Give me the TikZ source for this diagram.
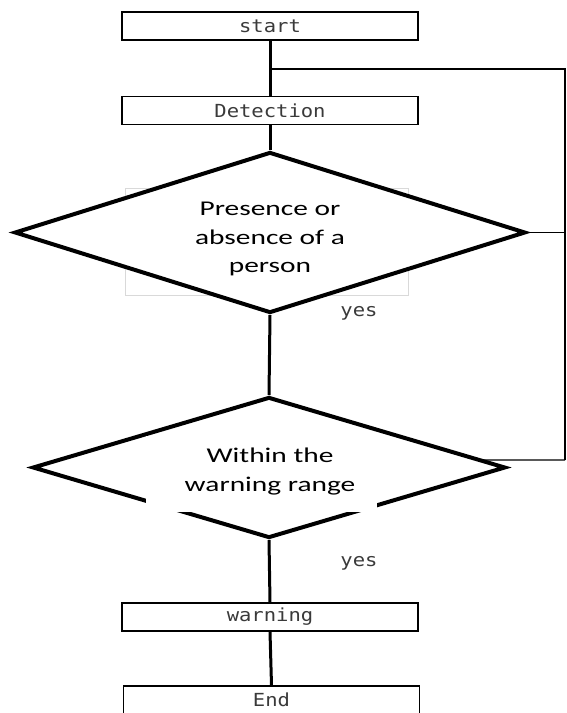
\documentclass[tikz,border=0pt]{standalone}
\usepackage{fontspec}
\usetikzlibrary{shapes.geometric}
\newfontfamily\boxfont[FakeStretch=1.14]{DejaVu Sans Mono}
\newfontfamily\dmdfont[FakeStretch=1.4]{Carlito}
\definecolor{boxtext}{HTML}{3A3A3A}

\begin{document}
\begin{tikzpicture}[x=1pt, y=-1pt, line width=1.6pt,
    stepbox/.style={draw, rectangle, minimum width=296pt, minimum height=28pt, inner sep=0pt,
        font=\boxfont\fontsize{18}{22}\selectfont, text=boxtext},
    decision/.style={draw, diamond, fill=white, line width=4pt, inner sep=0pt},
    dmdtext/.style={align=center, inner sep=0pt, font=\dmdfont\fontsize{21}{28.5}\selectfont},
    answer/.style={inner sep=0pt, font=\boxfont\fontsize{18}{22}\selectfont, text=boxtext},
    flow/.style={line width=3pt},
    loopline/.style={line width=1.3pt}]
    \useasboundingbox (0,0) rectangle (566,713);
    \clip (0,0) rectangle (566,713);

    \draw (270,26) node[stepbox, name=start]{start};
    \draw (270,110.5) node[stepbox, name=detect]{Detection};

    % faint frame left behind the first decision
    \draw[gray!30, line width=1pt] (125,188) rectangle (408,295);
    \draw (270,232.5) node[decision, minimum width=511pt, minimum height=161pt, name=d1]{};
    \draw (270,239) node[dmdtext, name=t1]{Presence or\\absence of a\\person};
    \draw (359,313) node[answer, name=yes1]{yes};

    \draw (269,467.5) node[decision, minimum width=473pt, minimum height=141pt, name=d2]{};
    \fill[white] (146,436) rectangle (377,512);
    \draw (270,471.5) node[dmdtext, name=t2]{Within the\\warning range};
    \draw (359,563) node[answer, name=yes2]{yes};

    \draw (270,617) node[stepbox, name=warn]{warning};
    \draw (271.5,700) node[stepbox, name=fin]{End};

    % main flow
    \draw[flow] (start.south) -- (detect.north);
    \draw[flow] (detect.south) -- (d1.north);
    \draw[flow] (d1.south) -- (d2.north);
    \draw[flow] (d2.south) -- (warn.north);
    \draw[flow] (warn.south) -- (fin.north);

    % return line on the right
    \coordinate (br) at (270,69);
    \coordinate (tr) at (565,69);
    \coordinate (rb) at (565,460);
    \draw[loopline] (br) -- (tr) -- (rb);
    \draw[loopline] (d1.east) -- (d1.east -| tr);
    \draw[loopline] (d2.2) -- (rb);
\end{tikzpicture}
\end{document}
